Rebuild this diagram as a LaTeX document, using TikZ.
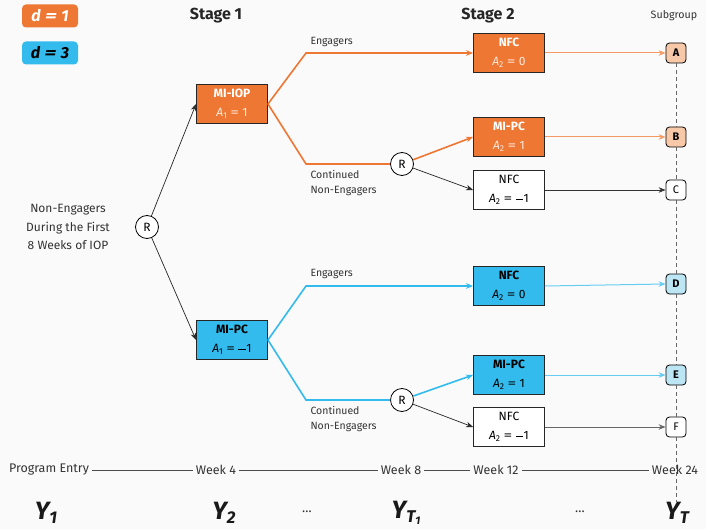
\documentclass[tikz,border=0pt]{standalone}
\usepackage{fontspec}
\usepackage{graphicx}
\setmainfont{Fira Sans}
\usetikzlibrary{arrows.meta}
\definecolor{tolorange}{HTML}{EE7733}
\definecolor{tolcyan}{HTML}{33BBEE}
\definecolor{lorange}{HTML}{F8C9A9}
\definecolor{lcyan}{HTML}{BDE6F5}
\definecolor{aorange}{HTML}{F59A62}
\definecolor{acyan}{HTML}{66CCF2}
\definecolor{bg}{HTML}{FAFAFA}
\definecolor{txt}{HTML}{333333}
\newcommand{\Eq}{\hspace{0.28em}\scalebox{1.45}[1]{=}\hspace{0.28em}}
\newcommand{\Mn}{\rule[0.26em]{0.62em}{0.065em}\hspace{0.05em}}
\newcommand{\Asub}[2]{{\itshape A}\raisebox{-0.35ex}{\fontsize{8.5}{9}\selectfont #1}\Eq#2}
\tikzset{
  box/.style={draw=black!85, line width=0.9pt, minimum width=71pt, minimum height=39pt,
    align=center, inner sep=1pt, font=\fontsize{12}{19}\selectfont},
  obox/.style={box, fill=tolorange, text=white},
  cbox/.style={box, fill=tolcyan, text=black},
  wbox/.style={box, fill=white, text=black},
  rnode/.style={circle, draw=black, line width=0.8pt, fill=white, minimum size=23pt, inner sep=0pt, font=\fontsize{12}{14}\selectfont},
  sg/.style={draw=black, line width=0.8pt, rounded corners=3.5pt, minimum size=20pt, inner sep=0pt, font=\fontsize{11}{12}\selectfont},
  lbl/.style={text=txt, font=\fontsize{10.5}{15}\selectfont, align=left},
  tick/.style={text=txt, font=\fontsize{12.5}{14}\selectfont, inner sep=3pt},
  arr/.style={-{Stealth[length=7pt,width=5.5pt]}},
  obr/.style={tolorange, line width=1.6pt},
  cbr/.style={tolcyan, line width=1.6pt},
  ybig/.style={font=\fontsize{25}{28}\selectfont\bfseries\itshape, text=black!90},
  legend/.style={rounded corners=4pt, minimum width=56pt, minimum height=23pt, inner sep=0pt, font=\fontsize{16}{18}\selectfont\bfseries\itshape},
}
\begin{document}
\begin{tikzpicture}[x=1pt,y=-1pt]
\fill[bg] (0,0) rectangle (706,529);
\useasboundingbox (0,0) rectangle (706,529);

% legend
\node[legend, fill=tolorange, text=white] (d1) at (50,16) {d\Eq 1};
\node[legend, fill=tolcyan, text=black] (d3) at (50,53) {d\Eq 3};

% headers
\node[font=\fontsize{16}{18}\selectfont\bfseries, text=black!85] (s1) at (216,16) {Stage 1};
\node[font=\fontsize{16}{18}\selectfont\bfseries, text=black!85] (s2) at (488,16) {Stage 2};
\node[font=\fontsize{10.7}{12}\selectfont, text=txt] (sgh) at (674,16) {Subgroup};

% root
\node[text=txt, align=center, font=\fontsize{12}{18.5}\selectfont] (ne) at (68,227) {Non-Engagers\\During the First\\8 Weeks of IOP};
\node[rnode] (R) at (147,227) {R};

% stage 1
\node[obox] (iop) at (232,104) {\textbf{MI-IOP}\\{\color{white!85!tolorange}\Asub{1}{1}}};
\node[cbox] (pc1) at (232,340) {\textbf{MI-PC}\\\Asub{1}{\Mn 1}};

% stage 2 nodes
\node[obox] (nfcA) at (509,53) {\textbf{NFC}\\{\color{white!85!tolorange}\Asub{2}{0}}};
\node[obox] (pcB) at (509,137) {\textbf{MI-PC}\\{\color{white!85!tolorange}\Asub{2}{1}}};
\node[wbox] (nfcC) at (509,190) {NFC\\\Asub{2}{\Mn 1}};
\node[cbox] (nfcD) at (509,286) {\textbf{NFC}\\\Asub{2}{0}};
\node[cbox] (pcE) at (509,375) {\textbf{MI-PC}\\\Asub{2}{1}};
\node[wbox] (nfcF) at (509,427) {NFC\\\Asub{2}{\Mn 1}};

\node[rnode] (R2) at (402,164) {R};
\node[rnode] (R3) at (402,400) {R};

\coordinate (bA) at (306,53);
\coordinate (bB) at (306,164);
\coordinate (bD) at (306,286);
\coordinate (bE) at (306,400);

% subgroups
\node[sg, fill=lorange, font=\fontsize{11}{12}\selectfont\bfseries] (A) at (676,53) {A};
\node[sg, fill=lorange, font=\fontsize{11}{12}\selectfont\bfseries] (B) at (676,137) {B};
\node[sg, fill=white] (C) at (676,190) {C};
\node[sg, fill=lcyan, font=\fontsize{11}{12}\selectfont\bfseries] (D) at (676,284) {D};
\node[sg, fill=lcyan, font=\fontsize{11}{12}\selectfont\bfseries] (E) at (676,375) {E};
\node[sg, fill=white] (F) at (676,427) {F};

% timeline
\node[tick] (t0) at (49,470) {Program Entry};
\node[tick] (t4) at (216,470) {Week 4};
\node[tick] (t8) at (401,470) {Week 8};
\node[tick] (t12) at (496,470) {Week 12};
\node[tick] (t24) at (675,470) {Week 24};
\coordinate (dend) at (676,502);

% dashed subgroup line
\draw[black!60, line width=0.6pt, dash pattern=on 4pt off 3pt] (A.south) -- (B.north) (B.south) -- (C.north) (C.south) -- (D.north) (D.south) -- (E.north) (E.south) -- (F.north) (F.south) -- (dend);

\draw[black!70, line width=0.7pt] (t0) -- (t4) (t4) -- (t8) (t8) -- (t12) (t12) -- (t24);

% root arrows
\draw[arr, black!85, line width=0.7pt] (R) -- (iop.west);
\draw[arr, black!85, line width=0.7pt] (R) -- (pc1.west);

% orange branch
\draw[obr, arr] (iop.east) -- (bA) -- (nfcA.west);
\draw[obr] (iop.east) -- (bB) -- (R2);
\draw[obr, arr] (R2) -- (pcB.west);
\draw[arr, black!85, line width=0.7pt] (R2) -- (nfcC.west);

% cyan branch
\draw[cbr, arr] (pc1.east) -- (bD) -- (nfcD.west);
\draw[cbr] (pc1.east) -- (bE) -- (R3);
\draw[cbr, arr] (R3) -- (pcE.west);
\draw[arr, black!85, line width=0.7pt] (R3) -- (nfcF.west);

% to subgroups
\draw[arr, aorange, line width=1pt] (nfcA.east) -- (A.west);
\draw[arr, aorange, line width=1pt] (pcB.east) -- (B.west);
\draw[arr, black!80, line width=0.8pt] (nfcC.east) -- (C.west);
\draw[arr, acyan, line width=1pt] (nfcD.east) -- (D.west);
\draw[arr, acyan, line width=1pt] (pcE.east) -- (E.west);
\draw[arr, black!60, line width=1pt] (nfcF.east) -- (F.west);

% branch labels
\node[lbl, anchor=west] (eng1) at (307,42) {Engagers};
\node[lbl, anchor=north west] (cne1) at (307,167) {Continued\\Non-Engagers};
\node[lbl, anchor=west] (eng2) at (307,274) {Engagers};
\node[lbl, anchor=north west] (cne2) at (307,403) {Continued\\Non-Engagers};

% outcomes
\node[ybig] (y1) at (46,513) {Y\raisebox{-0.3ex}{\fontsize{17}{18}\selectfont 1}};
\node[ybig] (y2) at (224,513) {Y\raisebox{-0.3ex}{\fontsize{17}{18}\selectfont 2}};
\node[text=txt, font=\fontsize{13}{14}\selectfont] (dots1) at (307,512) {\dots};
\node[ybig] (yt1) at (406,513) {Y\raisebox{-0.3ex}{\fontsize{17}{18}\selectfont T\raisebox{-0.25ex}{\fontsize{11}{12}\selectfont 1}}};
\node[text=txt, font=\fontsize{13}{14}\selectfont] (dots2) at (580,512) {\dots};
\node[ybig] (yt) at (677,513) {Y\raisebox{-0.3ex}{\fontsize{17}{18}\selectfont T}};
\end{tikzpicture}
\end{document}
